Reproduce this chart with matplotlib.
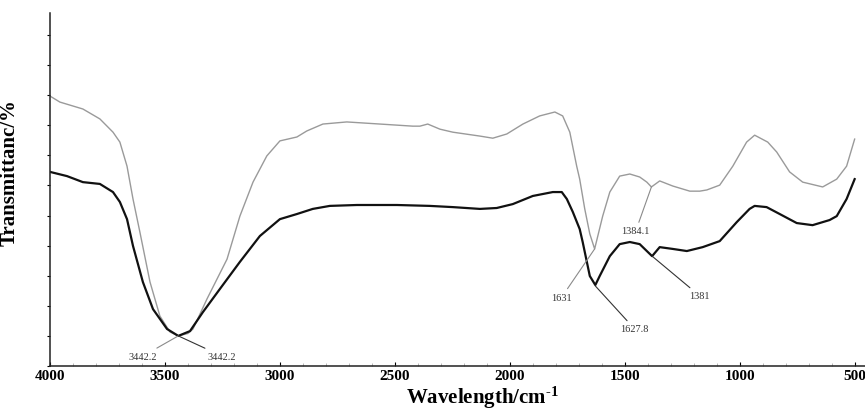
import matplotlib
matplotlib.use("Agg")
import matplotlib.pyplot as plt
from matplotlib.ticker import MultipleLocator

# ---- data ----
gray_wn = [4000, 3957, 3857, 3783, 3726, 3696, 3665, 3639, 3609, 3565, 3522, 3478,
           3442, 3400, 3378, 3317, 3230, 3174, 3117, 3057, 3000, 2926, 2883, 2813, 2709,
           2565, 2422, 2391, 2357, 2304, 2248, 2130, 2074, 2013, 1943, 1870, 1804,
           1770, 1739, 1709, 1696, 1674, 1652, 1631, 1596, 1565, 1522, 1478, 1435,
           1404, 1384, 1348, 1291, 1217, 1174, 1143, 1087, 1030, 970, 935, 878,
           839, 783, 726, 639, 578, 535, 500]
gray_t = [8.97, 8.77, 8.54, 8.21, 7.77, 7.44, 6.64, 5.55, 4.45, 2.79, 1.66, 1.13,
          1.00, 1.08, 1.23, 2.23, 3.55, 4.98, 6.11, 6.98, 7.48, 7.61, 7.81, 8.04, 8.11,
          8.04, 7.97, 7.97, 8.04, 7.87, 7.77, 7.64, 7.57, 7.71, 8.04, 8.31, 8.44,
          8.31, 7.77, 6.64, 6.21, 5.22, 4.39, 3.89, 4.98, 5.78, 6.31, 6.38, 6.28,
          6.11, 5.95, 6.15, 5.98, 5.81, 5.81, 5.85, 6.01, 6.64, 7.44, 7.67, 7.44,
          7.11, 6.45, 6.11, 5.95, 6.21, 6.64, 7.54]

black_wn = [4000, 3926, 3857, 3783, 3726, 3696, 3665, 3639, 3596, 3552, 3491, 3442,
            3391, 3335, 3261, 3174, 3087, 3000, 2926, 2857, 2783, 2665, 2491, 2348,
            2248, 2130, 2057, 1987, 1900, 1813, 1774, 1752, 1726, 1696, 1683, 1652,
            1628, 1609, 1565, 1522, 1478, 1435, 1404, 1381, 1348, 1291, 1230, 1161,
            1087, 1013, 957, 935, 883, 826, 752, 683, 609, 578, 535, 500]
black_t = [6.45, 6.31, 6.11, 6.05, 5.78, 5.45, 4.88, 3.99, 2.79, 1.89, 1.23, 1.00,
           1.16, 1.79, 2.56, 3.46, 4.32, 4.88, 5.05, 5.22, 5.32, 5.35, 5.35, 5.32,
           5.28, 5.22, 5.25, 5.38, 5.65, 5.78, 5.78, 5.55, 5.12, 4.55, 4.12, 2.99,
           2.69, 2.99, 3.65, 4.05, 4.12, 4.05, 3.82, 3.65, 3.95, 3.89, 3.82, 3.95,
           4.15, 4.78, 5.22, 5.32, 5.28, 5.05, 4.75, 4.68, 4.85, 4.98, 5.55, 6.21]

# annotations: label, peak (wn, T), text (wn, T), curve
ann_labels = ["3442.2", "3442.2", "1631", "1627.8", "1384.1", "1381"]
ann_peak_wn = [3442, 3442, 1631, 1628, 1384, 1381]
ann_peak_t = [1.00, 1.00, 3.89, 2.66, 5.95, 3.65]
ann_text_wn = [3596, 3252, 1774, 1457, 1452, 1174]
ann_text_t = [0.33, 0.33, 2.29, 1.23, 4.49, 2.33]
ann_curve = ["gray", "black", "gray", "black", "gray", "black"]

x_ticks = [4000, 3500, 3000, 2500, 2000, 1500, 1000, 500]

# ---- figure ----
plt.rcParams['font.family'] = ['Liberation Serif', 'DejaVu Serif']
plt.rcParams['mathtext.fontset'] = 'custom'
plt.rcParams['mathtext.rm'] = 'Liberation Serif:bold'
plt.rcParams['mathtext.bf'] = 'Liberation Serif:bold'
plt.rcParams['mathtext.default'] = 'bf'

fig = plt.figure(figsize=(8.65, 4.10), dpi=100)
ax = fig.add_axes([50 / 865, 43 / 410, 815 / 865, 353 / 410])

ax.plot(gray_wn, gray_t, color='#9a9a9a', lw=1.0)
ax.plot(black_wn, black_t, color='#111111', lw=1.6)

for lab, pw, pt, tw, tt, cv in zip(ann_labels, ann_peak_wn, ann_peak_t,
                                   ann_text_wn, ann_text_t, ann_curve):
    lc = '#8a8a8a' if cv == 'gray' else '#333333'
    ax.annotate(lab, xy=(pw, pt), xytext=(tw, tt), ha='center', va='center',
                fontsize=7.5, color='#333333',
                arrowprops=dict(arrowstyle='-', color=lc, lw=0.8,
                                shrinkA=1, shrinkB=0))

ax.set_xlim(4000, 455)
ax.set_ylim(0, 11.73)
ax.set_xticks(x_ticks)
ax.set_xticklabels([str(v) for v in x_ticks], fontsize=11, fontweight='bold')
ax.xaxis.set_minor_locator(MultipleLocator(100))
ax.yaxis.set_major_locator(MultipleLocator(1))
ax.set_yticklabels([])
ax.tick_params(axis='x', which='major', direction='in', length=3, width=0.8, pad=2.5)
ax.tick_params(axis='x', which='minor', direction='in', length=2, width=0.5, color='#999999')
ax.tick_params(axis='y', which='major', direction='out', length=2.5, width=0.8)

for s in ['top', 'right']:
    ax.spines[s].set_visible(False)
for s in ['left', 'bottom']:
    ax.spines[s].set_linewidth(1.1)
    ax.spines[s].set_color('#222222')

ax.set_xlabel('Wavelength/cm$^{\\text{-1}}$', fontsize=15, fontweight='bold')
ax.xaxis.label.set_va('baseline')
ax.xaxis.set_label_coords(0.53, -0.104)
ax.set_ylabel('Transmittanc/%', fontsize=15, fontweight='bold')
ax.yaxis.set_label_coords(-0.037, 0.552)

fig.savefig('out.png', dpi=100)
